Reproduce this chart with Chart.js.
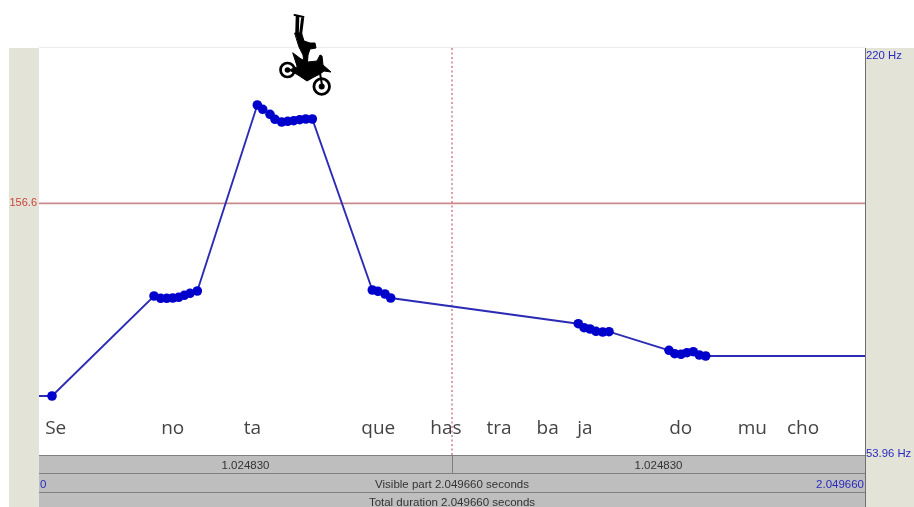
<!DOCTYPE html>
<html>
<head>
<meta charset="utf-8">
<title>Pitch contour</title>
<script src="https://cdn.jsdelivr.net/npm/chart.js@4/dist/chart.umd.min.js"></script>
<style>
  html, body { margin: 0; padding: 0; background: #fff; overflow: hidden; }
  #wrap { position: relative; width: 914px; height: 507px; }
  #moto { position: absolute; left: 270px; top: 5px; }
</style>
</head>
<body>
<div id="wrap">
  <canvas id="pitchChart" width="914" height="507"></canvas>
  <!-- rider picture, pasted on top of the plot in the original too -->
  <svg id="moto" width="70" height="100" viewBox="0 0 70 100">
    <g fill="#000" stroke="#000" stroke-linejoin="round" stroke-linecap="round">
      <circle cx="17.5" cy="65" r="7" fill="none" stroke-width="2.7"/>
      <circle cx="17.5" cy="65" r="2.8" stroke="none"/>
      <circle cx="51.7" cy="81.5" r="7.8" fill="none" stroke-width="2.8"/>
      <circle cx="51.7" cy="81.5" r="3" stroke="none"/>
      <path stroke-width="1" d="M23 48 L31 54 L38 57 L47 56 L50 50 L52 51 L53 60 L61 67 L54 66 L50 69 L44 72 L37 76 L28 70 L19 65 L27 62 Z"/>
      <path stroke-width="2" fill="none" d="M50 68 L52 80"/>
      <path stroke-width="3.6" fill="none" d="M27.5 12 L27 29"/>
      <path stroke-width="3" fill="none" d="M32.5 14 L30.5 30"/>
      <path stroke-width="2" fill="none" d="M24.5 10 L33.5 12"/>
      <path stroke-width="1" d="M25 28 L31.5 28 L34 36 L40 38 L45 38 L46 43 L40 44 L38 50 L37.5 57 L34 57 L33 50 L29 42 Z"/>
    </g>
  </svg>
</div>
<script>
// pitch track, seconds / Hz
var pitchTimes = [0, 0.0323,
  0.2854, 0.3020, 0.3169, 0.3318, 0.3466, 0.3605, 0.3747, 0.3928,
  0.5417, 0.5551, 0.5732, 0.5856, 0.6022, 0.6171, 0.6320, 0.6469, 0.6618, 0.6782,
  0.8271, 0.8412, 0.8586, 0.8727,
  1.3382, 1.3524, 1.3673, 1.3821, 1.3988, 1.4144,
  1.5633, 1.5774, 1.5931, 1.6079, 1.6236, 1.6385, 1.6543,
  2.04966];
var pitchHz = [78.03, 78.03,
  118.83, 117.89, 117.89, 118.01, 118.30, 119.11, 119.93, 120.87,
  196.75, 194.99, 192.95, 190.91, 189.81, 190.10, 190.34, 190.75, 191.03, 191.03,
  121.27, 120.74, 119.64, 118.01,
  107.53, 105.89, 105.36, 104.42, 104.14, 104.26,
  96.67, 95.29, 95.04, 95.69, 96.10, 94.76, 94.35,
  94.35];

var syllables = ['Se', 'no', 'ta', 'que', 'has', 'tra', 'ba', 'ja', 'do', 'mu', 'cho'];
var syllableTimes = [0.0414, 0.3318, 0.5293, 0.8419, 1.0099, 1.1415, 1.2623, 1.3548, 1.5923, 1.7700, 1.8958];

var minHz = 53.96;
var maxHz = 220;
var cursorHz = 156.6;
var cursorTime = 1.02483;
var duration = 2.04966;

var sansFont = '"Liberation Sans", Arial, sans-serif';

var pitchData = pitchTimes.map(function (t, i) {
  return { x: t, y: pitchHz[i] };
});

var praatFrame = {
  id: 'praatFrame',
  beforeDraw: function (chart) {
    var ctx = chart.ctx, a = chart.chartArea;
    ctx.save();
    ctx.fillStyle = '#e3e3d7';
    ctx.fillRect(9, a.top, a.left - 9, 507 - a.top);
    ctx.fillRect(a.right, a.top, 914 - a.right, 507 - a.top);
    ctx.fillStyle = '#ececec';
    ctx.fillRect(a.left, a.top - 1, a.right - a.left, 1);
    ctx.restore();
  },
  afterDraw: function (chart) {
    var ctx = chart.ctx, a = chart.chartArea;
    var xs = chart.scales.x, ys = chart.scales.y;
    var cx = xs.getPixelForValue(cursorTime);
    ctx.save();

    // syllables under the contour
    ctx.fillStyle = '#444';
    ctx.font = '19px "Open Sans", sans-serif';
    ctx.textAlign = 'center';
    ctx.textBaseline = 'middle';
    syllables.forEach(function (s, i) {
      ctx.fillText(s, xs.getPixelForValue(syllableTimes[i]), a.bottom - 26);
    });

    // grey bars below the plot
    ctx.fillStyle = '#bebebe';
    ctx.fillRect(a.left, a.bottom, a.right - a.left, 507 - a.bottom);
    ctx.fillStyle = '#808080';
    ctx.fillRect(a.left, a.bottom, a.right - a.left, 1);
    ctx.fillRect(a.left, a.bottom + 18, a.right - a.left, 1);
    ctx.fillRect(a.left, a.bottom + 37, a.right - a.left, 1);
    ctx.fillRect(Math.round(cx), a.bottom, 1, 18);
    ctx.fillStyle = '#6e6e6e';
    ctx.fillRect(a.right, a.top, 1, 507 - a.top);

    ctx.font = '11.5px ' + sansFont;
    ctx.fillStyle = '#333';
    ctx.textAlign = 'center';
    ctx.fillText(cursorTime.toFixed(6), (a.left + cx) / 2, a.bottom + 11);
    ctx.fillText(cursorTime.toFixed(6), (cx + a.right) / 2, a.bottom + 11);
    ctx.fillText('Visible part ' + duration.toFixed(6) + ' seconds', cx, a.bottom + 30);
    ctx.fillText('Total duration ' + duration.toFixed(6) + ' seconds', cx, a.bottom + 48);

    ctx.fillStyle = '#2a2ac0';
    ctx.textAlign = 'left';
    ctx.fillText('0', a.left + 1, a.bottom + 30);
    ctx.textAlign = 'right';
    ctx.fillText(duration.toFixed(6), a.right - 1, a.bottom + 30);

    // frequency range on the right
    ctx.textAlign = 'left';
    ctx.font = '11.3px ' + sansFont;
    ctx.fillText(maxHz + ' Hz', a.right + 1, ys.getPixelForValue(maxHz) + 8);
    ctx.fillText(minHz + ' Hz', a.right + 1, ys.getPixelForValue(minHz) - 1);
    ctx.restore();
  }
};

var chart = new Chart(document.getElementById('pitchChart').getContext('2d'), {
  type: 'line',
  data: {
    datasets: [{
      // contour, the two open ends have no dot
      data: pitchData,
      borderColor: '#2b2bb5',
      borderWidth: 1.9,
      tension: 0,
      pointBackgroundColor: '#0000cd',
      pointBorderWidth: 0,
      pointRadius: function (c) {
        return (c.dataIndex === 0 || c.dataIndex === pitchData.length - 1) ? 0 : 4.8;
      }
    }, {
      data: [{ x: 0, y: cursorHz }, { x: duration, y: cursorHz }],
      borderColor: '#c98a8d',
      borderWidth: 1.6,
      pointRadius: 0
    }, {
      data: [{ x: cursorTime, y: minHz }, { x: cursorTime, y: maxHz }],
      borderColor: '#d48a92',
      borderWidth: 1.6,
      borderDash: [2, 2.5],
      pointRadius: 0
    }]
  },
  plugins: [praatFrame],
  options: {
    responsive: false,
    animation: false,
    layout: { padding: { top: 48, right: 49, bottom: 52, left: 0 } },
    plugins: { legend: { display: false }, tooltip: { enabled: false } },
    scales: {
      x: { type: 'linear', min: 0, max: duration, display: false },
      y: {
        min: minHz,
        max: maxHz,
        border: { display: false },
        grid: { display: false, drawTicks: false },
        afterBuildTicks: function (axis) {
          axis.ticks = [{ value: cursorHz }];
        },
        afterFit: function (axis) {
          axis.width = 39;
        },
        ticks: {
          padding: 2,
          color: '#c8453a',
          font: { family: sansFont, size: 11 },
          autoSkip: false,
          maxRotation: 0,
          callback: function (v) { return String(v); }
        }
      }
    }
  }
});
</script>
</body>
</html>
